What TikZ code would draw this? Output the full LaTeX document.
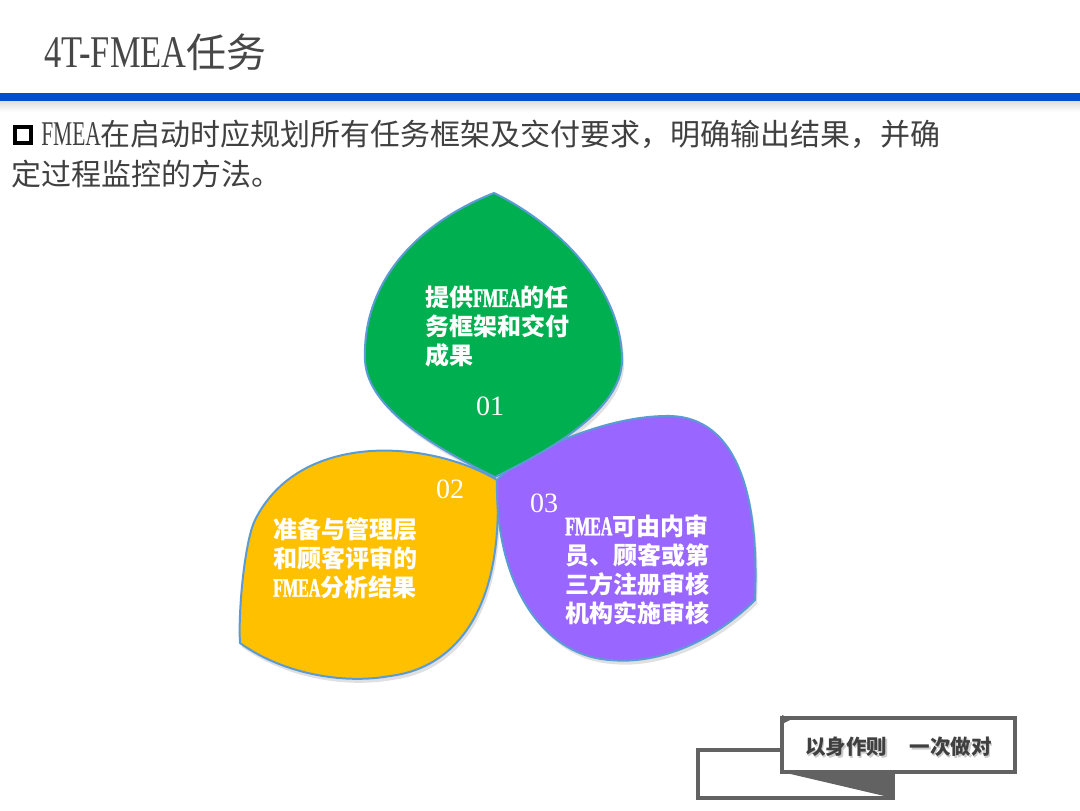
\documentclass[tikz,border=0pt]{standalone}
\usepackage{fontspec}
\setmainfont{Liberation Serif}
\newfontfamily\cjk{Noto Sans CJK SC}
\newfontfamily\titlelat[FakeStretch=0.76]{Liberation Serif}
\newfontfamily\narrow[FakeStretch=0.62]{Liberation Serif}
\newfontfamily\narrowbf[FakeStretch=0.6,FakeBold=1.5]{Liberation Serif}
\definecolor{txtgray}{HTML}{404040}
\definecolor{titlegray}{HTML}{474747}
\definecolor{rulerblue}{HTML}{0050CC}
\definecolor{leafgreen}{HTML}{00B050}
\definecolor{leafyellow}{HTML}{FFC000}
\definecolor{leafpurple}{HTML}{9966FF}
\definecolor{leafedge}{HTML}{5B9BD5}
\definecolor{boxgray}{HTML}{626262}
\def\greenleaf{(494,193) .. controls (420,222) and (362,280) .. (365,360) .. controls (367,410) and (440,450) .. (495,477) .. controls (550,450) and (622,410) .. (622,360) .. controls (622,290) and (560,225) .. (494,193) -- cycle}
\def\yellowleaf{(497,480) .. controls (430,440) and (300,430) .. (255,520) .. controls (245,540) and (238,610) .. (240,643) .. controls (280,672) and (340,685) .. (390,676) .. controls (455,668) and (505,610) .. (497,480) -- cycle}
\def\purpleleaf{(497,480) .. controls (520,455) and (600,417) .. (665,416) .. controls (730,414) and (760,480) .. (755,600) .. controls (715,640) and (660,665) .. (610,660) .. controls (540,655) and (495,580) .. (497,480) -- cycle}
\newcommand{\fm}{{\narrowbf\fontsize{20pt}{21.75pt}\selectfont FMEA}}
\begin{document}
\begin{tikzpicture}[x=0.75pt,y=-0.75pt,
  leaf/.style={draw=leafedge, line width=1.5pt, line join=round},
  leafshadow/.style={fill=black, opacity=0.12},
  leaftext/.style={text=white, align=left, anchor=west, inner sep=0pt,
    font=\cjk\bfseries\fontsize{18pt}{21.75pt}\selectfont},
  num/.style={text=white, inner sep=0pt, font=\fontsize{21pt}{24pt}\selectfont},
  bodytext/.style={anchor=base west, inner sep=0pt, text=txtgray,
    font=\cjk\fontsize{22.5pt}{27pt}\selectfont}]
\useasboundingbox (0,0) rectangle (1080,810);
\fill[white] (0,0) rectangle (1080,810);
% title
\node[anchor=base west, inner sep=0pt, text=titlegray] (title) at (44,67)
  {{\titlelat\fontsize{34pt}{40pt}\selectfont 4T-FMEA}{\cjk\fontsize{30pt}{36pt}\selectfont 任务}};
\shade[top color=black!14, bottom color=white] (0,100) rectangle (1080,112);
\fill[rulerblue] (0,93) rectangle (1080,101);
% bullet text
\draw[line width=2.8pt, black] (14.8,126.8) rectangle (31.2,143.2);
\node[bodytext] (line1) at (41,145)
  {{\narrow\fontsize{26pt}{30pt}\selectfont FMEA}在启动时应规划所有任务框架及交付要求，明确输出结果，并确};
\node[bodytext] (line2) at (11,185) {定过程监控的方法。};
% leaf shadows
\fill[leafshadow, shift={(2,4)}] \yellowleaf;
\fill[leafshadow, shift={(2,4)}] \purpleleaf;
\fill[leafshadow, shift={(2,4)}] \greenleaf;
% leaves
\path[leaf, fill=leafyellow] \yellowleaf;
\path[leaf, fill=leafpurple] \purpleleaf;
\path[leaf, fill=leafgreen] \greenleaf;
% leaf texts
\node[leaftext] (t1) at (425,327)
  {提供\fm 的任\\务框架和交付\\成果};
\node[leaftext] (t2) at (273,558.5)
  {准备与管理层\\和顾客评审的\\\fm 分析结果};
\node[leaftext] (t3) at (565,569.5)
  {\fm 可由内审\\员、顾客或第\\三方注册审核\\机构实施审核};
\node[num] (n1) at (490,406) {01};
\node[num] (n2) at (450,489) {02};
\node[num] (n3) at (544,503) {03};
% motto box
\draw[boxgray, line width=2.5pt] (782,750) -- (698,750) -- (698,798) -- (893,798) -- (893,772);
\fill[boxgray] (782,772) -- (893,772) -- (893,798) -- cycle;
\draw[boxgray, line width=3pt, fill=white] (782,718) rectangle (1015,772);
\fill[boxgray] (782,715) -- (792,719) -- (782,724) -- cycle;
\node[inner sep=0pt, text=black!20, font=\cjk\bfseries\fontsize{15.4pt}{18pt}\selectfont] (mottoshadow) at (900,749) {以身作则\hspace{1.1em}一次做对};
\node[inner sep=0pt, text=txtgray, font=\cjk\bfseries\fontsize{15.4pt}{18pt}\selectfont] (motto) at (898.5,747) {以身作则\hspace{1.1em}一次做对};
\end{tikzpicture}
\end{document}
